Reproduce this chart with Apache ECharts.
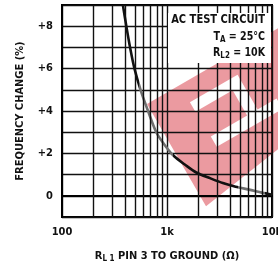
<!DOCTYPE html>
<html>
<head>
<meta charset="utf-8">
<script src="https://cdn.jsdelivr.net/npm/echarts@6/dist/echarts.min.js"></script>
<style>
  html, body { margin: 0; padding: 0; background: #fff; }
  #chart { width: 278px; height: 267px; }
</style>
</head>
<body>
<div id="chart"></div>
<script>
// values
var resistance = [380, 410, 445, 490, 560, 660, 790, 950, 1150, 1500, 1900, 2600, 3400, 4500, 6200, 8000, 10000];
var freqChange = [9.0, 8.0, 7.0, 6.0, 5.0, 4.0, 3.0, 2.4, 1.9, 1.45, 1.1, 0.82, 0.6, 0.43, 0.28, 0.15, 0.05];
var minorGrid = [200, 300, 400, 500, 600, 700, 800, 900, 2000, 3000, 4000, 5000, 6000, 7000, 8000, 9000];

var font = '"Liberation Sans Narrow", "DejaVu Sans Condensed", sans-serif';
var ink = '#111';

var chart = echarts.init(document.getElementById('chart'));

var points = [];
for (var i = 0; i < resistance.length; i++) {
    points.push([resistance[i], freqChange[i]]);
}

// red logo stamped over the plot (local coords, rotated group)
var logo = [[0, 0], [170, 0], [170, 93], [0, 118], [0, 20], [38, 20], [38, 31], [81, 31], [81, 60],
    [39, 60], [39, 72], [115, 72], [115, 60], [93, 60], [93, 20], [38, 20], [0, 20]];

var boxRich = {
    m: { fontFamily: font, fontWeight: 'bold', fontSize: 12, fill: ink },
    s: { fontFamily: font, fontWeight: 'bold', fontSize: 9, fill: ink, padding: [6, 0, 0, 0] }
};

var option = {
    animation: false,
    grid: {
        left: 62, right: 6, top: 5, bottom: 50,
        containLabel: false,
        outerBoundsMode: 'none',
        show: true, borderColor: '#000', borderWidth: 2
    },
    xAxis: {
        type: 'log',
        logBase: 10,
        min: 100,
        max: 10000,
        name: '{r|R}{s|L 1} PIN 3 TO GROUND (Ω)',
        nameLocation: 'middle',
        nameGap: 32,
        nameTextStyle: {
            rich: {
                r: { fontFamily: font, fontWeight: 'bold', fontSize: 11, color: ink },
                s: { fontFamily: font, fontWeight: 'bold', fontSize: 8, color: ink, padding: [6, 0, 0, 0] }
            },
            fontFamily: font, fontWeight: 'bold', fontSize: 11, color: ink
        },
        axisLine: { show: true, lineStyle: { color: '#000', width: 2 } },
        axisTick: { show: false },
        axisLabel: {
            margin: 10, fontFamily: font, fontWeight: 'bold', fontSize: 11, color: ink,
            formatter: function (v) { return v >= 1000 ? (v / 1000) + 'k' : '' + v; }
        },
        splitLine: { show: true, lineStyle: { color: ink, width: 1.4 } }
    },
    yAxis: {
        type: 'value',
        min: -1,
        max: 9,
        interval: 1,
        name: 'FREQUENCY CHANGE (%)',
        nameLocation: 'middle',
        nameGap: 36,
        nameTextStyle: { fontFamily: font, fontWeight: 'bold', fontSize: 11, color: ink },
        axisLine: { show: true, lineStyle: { color: '#000', width: 2 } },
        axisTick: { show: false },
        axisLabel: {
            margin: 9, fontFamily: font, fontWeight: 'bold', fontSize: 11, color: ink,
            formatter: function (v) {
                if (v === 0) return '0';
                if (v > 0 && v % 2 === 0) return '+' + v;
                return '';
            }
        },
        splitLine: { show: true, lineStyle: { color: ink, width: 1.4 } }
    },
    visualMap: {
        show: false,
        type: 'piecewise',
        dimension: 0,
        seriesIndex: 0,
        pieces: [
            { lt: 540, color: '#111' },
            { gte: 540, lt: 1150, color: '#707070' },
            { gte: 1150, lt: 4700, color: '#111' },
            { gte: 4700, lt: 8600, color: '#707070' },
            { gte: 8600, color: '#111' }
        ]
    },
    series: [{
        type: 'line',
        data: points,
        smooth: 0.3,
        showSymbol: false,
        lineStyle: { width: 2.6 },
        markLine: {
            silent: true,
            symbol: 'none',
            label: { show: false },
            lineStyle: { color: ink, width: 1.4, type: 'solid' },
            data: minorGrid.map(function (v) { return { xAxis: v }; })
        }
    }],
    graphic: [
        {
            type: 'group',
            x: 147, y: 104,
            rotation: 30 * Math.PI / 180,
            z: 10,
            children: [{
                type: 'polygon',
                shape: { points: logo },
                style: { fill: 'rgba(210, 30, 45, 0.45)' }
            }]
        },
        {
            type: 'rect',
            z: 20,
            shape: { x: 168, y: 13, width: 103, height: 50 },
            style: { fill: '#fff' }
        },
        {
            type: 'text',
            z: 21,
            x: 265, y: 20, scaleX: 0.92,
            style: {
                align: 'right', verticalAlign: 'middle',
                text: 'AC TEST CIRCUIT',
                fontFamily: font, fontWeight: 'bold', fontSize: 12, fill: ink
            }
        },
        {
            type: 'text',
            z: 21,
            x: 265, y: 37, scaleX: 0.88,
            style: {
                align: 'right', verticalAlign: 'middle',
                text: '{m|T}{s|A}{m| = 25°C}',
                rich: boxRich
            }
        },
        {
            type: 'text',
            z: 21,
            x: 265, y: 53, scaleX: 0.88,
            style: {
                align: 'right', verticalAlign: 'middle',
                text: '{m|R}{s|L2}{m| = 10K}',
                rich: boxRich
            }
        }
    ]
};

chart.setOption(option);
</script>
</body>
</html>
